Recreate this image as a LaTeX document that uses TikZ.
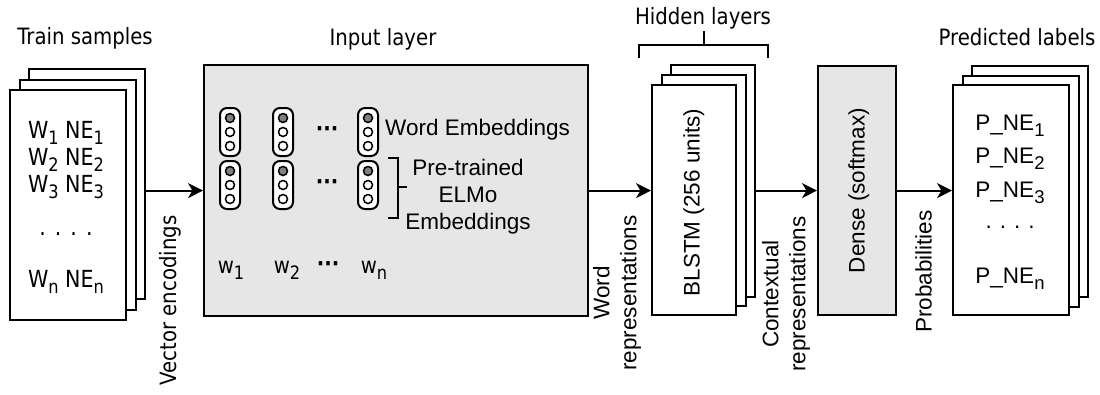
\documentclass[tikz,border=0pt]{standalone}
\usepackage{fontspec}
\setmainfont{Liberation Sans}
\newfontfamily\tah[FakeStretch=0.876]{DejaVu Sans}
\usetikzlibrary{arrows.meta}
\definecolor{boxgray}{HTML}{E6E6E6}
\definecolor{dotgray}{HTML}{808080}
\newcommand{\sbs}[1]{\raisebox{-6pt}{\fontsize{18.5}{18.5}\selectfont #1}}
\begin{document}
\begin{tikzpicture}[x=1pt,y=-1pt,
  page/.style={draw, fill=white, line width=2.2pt, anchor=north west, inner sep=0pt},
  graybox/.style={draw, fill=boxgray, line width=2.2pt, anchor=north west, inner sep=0pt},
  capsule/.style={draw, fill=white, rounded corners=7pt, line width=2pt, minimum width=20pt, minimum height=48pt, inner sep=0pt},
  unit/.style={draw, circle, fill=white, line width=1.5pt, minimum size=9pt, inner sep=0pt},
  unitg/.style={unit, fill=dotgray},
  tlabel/.style={font=\tah\fontsize{22.5}{27}\selectfont, inner sep=0pt},
  rowlabel/.style={font=\tah\fontsize{23.5}{27}\selectfont, inner sep=0pt},
  alabel/.style={font=\fontsize{22.5}{27}\selectfont, inner sep=0pt},
  dotlabel/.style={font=\tah\bfseries\fontsize{22.5}{27}\selectfont, inner sep=0pt},
  arr/.style={line width=2pt, -{Stealth[length=15pt,width=15pt,inset=4.5pt]}},
  brk/.style={line width=2pt}
]
\useasboundingbox (0,0) rectangle (1100,394);

% train samples stack
\node[page, minimum width=116pt, minimum height=230pt] (ts3) at (28,68) {};
\node[page, minimum width=116pt, minimum height=230pt] (ts2) at (18.5,78.5) {};
\node[page, minimum width=116pt, minimum height=230pt] (ts1) at (9,89) {};
\node[tlabel, anchor=base] (tsl) at (85,44.5) {Train samples};
\node[rowlabel, anchor=base] (r1) at (66,138) {W\sbs{1} NE\sbs{1}};
\node[rowlabel, anchor=base] (r2) at (66,165) {W\sbs{2} NE\sbs{2}};
\node[rowlabel, anchor=base] (r3) at (66,192) {W\sbs{3} NE\sbs{3}};
\node[rowlabel, anchor=base] (r4) at (66,235) {.\hspace{9pt}.\hspace{9pt}.\hspace{9pt}.};
\node[rowlabel, anchor=base] (r5) at (66,287) {W\sbs{n} NE\sbs{n}};

% input layer
\node[graybox, minimum width=384pt, minimum height=251pt] (inp) at (203,64) {};
\node[tlabel, anchor=base] (inl) at (383,45) {Input layer};
\foreach \c/\x in {1/230, 2/283, 3/368} {
  \node[capsule] (we\c) at (\x,132) {};
  \node[capsule] (el\c) at (\x,185) {};
  \node[unitg] (we\c a) at (\x,118) {};
  \node[unit]  (we\c b) at (\x,132) {};
  \node[unit]  (we\c c) at (\x,146) {};
  \node[unitg] (el\c a) at (\x,171) {};
  \node[unit]  (el\c b) at (\x,185) {};
  \node[unit]  (el\c c) at (\x,199) {};
}
\node[dotlabel] (d1) at (327,132) {···};
\node[dotlabel] (d2) at (327,185) {···};
\node[alabel, anchor=base west] (wel) at (385,135) {Word Embeddings};
\draw[brk] (388,158) -- (398,158) -- (398,218) -- (388,218);
\draw[brk] (398,187) -- (407,187);
\node[alabel, align=center] (ptl) at (468,197) {Pre-trained\\ELMo\\Embeddings};
\node[tlabel, anchor=base] (w1) at (231,273) {w\sbs{1}};
\node[tlabel, anchor=base] (w2) at (287,273) {w\sbs{2}};
\node[dotlabel] (wd) at (328,267) {···};
\node[tlabel, anchor=base] (wn) at (374,273) {w\sbs{n}};

% hidden layers
\node[page, minimum width=84pt, minimum height=232pt] (bl3) at (670,64) {};
\node[page, minimum width=84pt, minimum height=231pt] (bl2) at (660.5,74) {};
\node[page, minimum width=84pt, minimum height=230pt] (bl1) at (651,84) {};
\node[alabel, rotate=90, anchor=base] (bll) at (699.5,202.5) {BLSTM (256 units)};
\node[tlabel, anchor=base] (hdl) at (703,24) {Hidden layers};
\draw[brk] (639,58) -- (639,45) -- (768,45) -- (768,58);
\draw[brk] (703.5,45) -- (703.5,31);

% dense
\node[graybox, minimum width=78pt, minimum height=249pt] (dense) at (817,65) {};
\node[alabel, rotate=90, anchor=base] (dnl) at (864.5,190.5) {Dense (softmax)};

% predicted labels stack
\node[page, minimum width=116pt, minimum height=231pt] (pl3) at (971,65) {};
\node[page, minimum width=116pt, minimum height=231pt] (pl2) at (961.5,74.5) {};
\node[page, minimum width=116pt, minimum height=230pt] (pl1) at (952,84) {};
\node[tlabel, anchor=base] (pll) at (1017,45) {Predicted labels};
\node[alabel, anchor=base] (p1) at (1010,130) {P\_NE\sbs{1}};
\node[alabel, anchor=base] (p2) at (1010,163) {P\_NE\sbs{2}};
\node[alabel, anchor=base] (p3) at (1010,197) {P\_NE\sbs{3}};
\node[alabel, anchor=base] (p4) at (1010,228) {.\hspace{8pt}.\hspace{8pt}.\hspace{8pt}.};
\node[alabel, anchor=base] (p5) at (1010,283) {P\_NE\sbs{n}};

% connectors
\draw[arr] (ts3.east |- inp.west) -- (inp.west);
\draw[arr] (inp.east) -- (inp.east -| bl1.west);
\draw[arr] (bl3.east |- inp.east) -- (dense.west |- inp.east);
\draw[arr] (dense.east |- inp.east) -- (inp.east -| pl1.west);

% connector labels
\node[tlabel, rotate=90, anchor=base] (vel) at (176,300.5) {Vector encodings};
\node[alabel, rotate=90, align=center] (wrl) at (617,293) {Word\\representations};
\node[alabel, rotate=90, align=center] (crl) at (786,294) {Contextual\\representations};
\node[alabel, rotate=90, anchor=base] (prl) at (931.5,271.5) {Probabilities};
\end{tikzpicture}
\end{document}
